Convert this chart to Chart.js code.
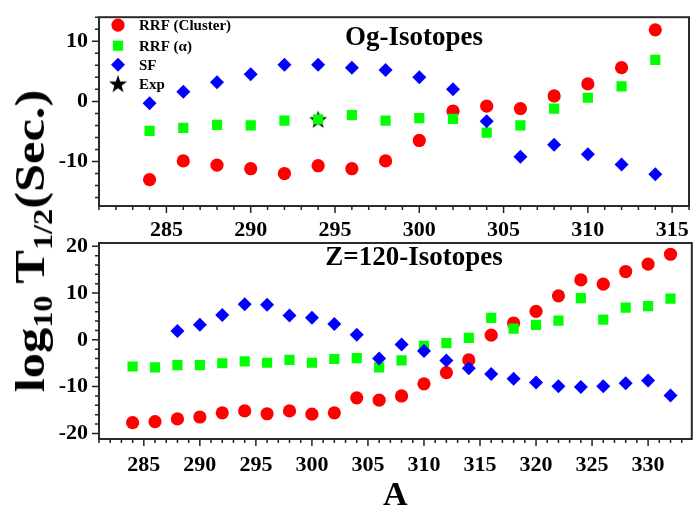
<!DOCTYPE html>
<html><head><meta charset="utf-8">
<script src="https://cdn.jsdelivr.net/npm/chart.js@4"></script>
<style>
html,body{margin:0;padding:0;background:#fff;}
#wrap{position:relative;width:699px;height:514px;overflow:hidden;background:#fff;}
.box{position:absolute;left:0;width:699px;}
#ytitle{position:absolute;left:30px;top:241px;transform:translate(-50%,-50%) rotate(-90deg) scaleX(1.2);font:bold 42px "Liberation Serif",serif;white-space:nowrap;color:#000;line-height:1;}
#ytitle sub{font-size:27px;vertical-align:-0.3em;line-height:0;}
</style></head><body>
<div id="wrap">
<div class="box" style="top:0;height:240px"><canvas id="c1"></canvas></div>
<div class="box" style="top:225px;height:289px"><canvas id="c2"></canvas></div>
<div id="ytitle">log<sub>10</sub> T<sub>1/2</sub>(Sec.)</div>
</div>
<script>
// ---------- data: Og isotopes (top panel) ----------
const ogA = [284,286,288,290,292,294,296,298,300,302,304,306,308,310,312,314];
const ogCluster = [-13.0,-9.9,-10.6,-11.2,-12.0,-10.7,-11.2,-9.9,-6.5,-1.6,-0.8,-1.2,0.9,2.9,5.6,11.9];
const ogAlpha = [-4.9,-4.4,-3.9,-4.0,-3.2,-3.0,-2.3,-3.2,-2.8,-2.9,-5.2,-4.0,-1.2,0.6,2.5,6.9];
const ogSF = [-0.3,1.6,3.2,4.5,6.1,6.1,5.6,5.2,4.0,2.0,-3.3,-9.2,-7.2,-8.8,-10.5,-12.1];
const ogExpA = [294];
const ogExp = [-3.0];

// ---------- data: Z=120 isotopes (bottom panel) ----------
const zA = [284,286,288,290,292,294,296,298,300,302,304,306,308,310,312,314,316,318,320,322,324,326,328,330,332];
const zCluster = [-17.7,-17.5,-16.9,-16.5,-15.6,-15.2,-15.8,-15.2,-15.9,-15.6,-12.4,-12.9,-12.0,-9.4,-7.0,-4.3,1.0,3.6,6.1,9.4,12.8,11.9,14.6,16.2,18.3];
const zAlpha = [-5.7,-5.9,-5.4,-5.4,-5.0,-4.6,-4.9,-4.3,-4.9,-4.1,-3.9,-5.9,-4.4,-1.3,-0.7,0.4,4.7,2.4,3.2,4.1,8.9,4.3,6.9,7.2,8.8];
const zSFA = [288,290,292,294,296,298,300,302,304,306,308,310,312,314,316,318,320,322,324,326,328,330,332];
const zSF = [1.9,3.2,5.3,7.6,7.5,5.2,4.7,3.4,1.1,-4.0,-1.0,-2.4,-4.4,-6.1,-7.3,-8.3,-9.1,-9.9,-10.1,-9.9,-9.3,-8.7,-11.9];

const seriesNames = ['RRF (Cluster)','RRF (\u03b1)','SF','Exp'];
const topXTicks = {min:281, max:316};
const botXTicks = {min:281, max:333.9};
const topYRange = {min:-17.4, max:14};
const botYRange = {min:-21.2, max:20.7};

const FONT = "'Liberation Serif', 'Times New Roman', serif";
Chart.defaults.font.family = FONT;
Chart.defaults.font.weight = 'bold';
Chart.defaults.font.size = 22;
Chart.defaults.color = '#000';

// filled star marker
const star = document.createElement('canvas');
star.width = 20; star.height = 20;
(function(){
  const c = star.getContext('2d');
  c.fillStyle = '#000';
  c.beginPath();
  for (let i = 0; i < 10; i++) {
    const r = i % 2 === 0 ? 9.5 : 3.8;
    const a = -Math.PI/2 + i * Math.PI/5;
    const px = 10 + r*Math.cos(a), py = 10.8 + r*Math.sin(a);
    if (i === 0) c.moveTo(px, py); else c.lineTo(px, py);
  }
  c.closePath(); c.fill();
})();

const pts = (xs, ys) => xs.map((x,i) => ({x, y: ys[i]}));
const isMult = (v, m) => Math.abs(v - Math.round(v/m)*m) < 1e-6;

const styles = [
  {pointStyle:'circle', radius:6.6, color:'#ff0000', order:3},
  {pointStyle:'rect', radius:7.2, color:'#00ff00', order:2},
  {pointStyle:'rectRot', radius:7, color:'#0000ff', order:1},
  {pointStyle:star, radius:10, color:'#000', order:4}
];
function ds(i, data) {
  const s = styles[i];
  return {label: seriesNames[i], data, pointStyle: s.pointStyle, pointRadius: s.radius,
    pointHoverRadius: s.radius, backgroundColor: s.color, borderColor: s.color, pointBorderWidth: 0,
    showLine: false, order: s.order};
}

const frame = {
  id: 'frame',
  afterDraw(chart) {
    const {ctx, chartArea: a, scales: {x, y}} = chart;
    ctx.save();
    ctx.strokeStyle = '#222'; ctx.lineWidth = 1.5;
    ctx.beginPath();
    x.ticks.forEach(t => {
      const px = x.getPixelForValue(t.value);
      const L = isMult(t.value, 5) ? 7 : 4;
      ctx.moveTo(px, a.bottom); ctx.lineTo(px, a.bottom + L);
    });
    y.ticks.forEach(t => {
      const py = y.getPixelForValue(t.value);
      const L = isMult(t.value, 10) ? 7 : 4;
      ctx.moveTo(a.left, py); ctx.lineTo(a.left - L, py);
    });
    ctx.stroke();
    ctx.lineWidth = 2; ctx.strokeStyle = '#2a2a2a';
    ctx.strokeRect(a.left, a.top, a.right - a.left, a.bottom - a.top);
    const pt = chart.options.plugins.panelTitle;
    if (pt) {
      ctx.fillStyle = '#000';
      ctx.font = 'bold 27px ' + FONT;
      ctx.textAlign = 'center'; ctx.textBaseline = 'middle';
      ctx.fillText(pt.text, pt.x, a.top + pt.dy);
    }
    const lg = chart.options.plugins.insideLegend;
    if (lg) {
      ctx.font = 'bold 15px ' + FONT;
      ctx.textAlign = 'left'; ctx.textBaseline = 'middle';
      chart.data.datasets.forEach((d, i) => {
        const yy = a.top + lg.rows[i];
        ctx.fillStyle = d.backgroundColor;
        Chart.helpers.drawPoint(ctx, {pointStyle: d.pointStyle, radius: d.pointRadius, rotation: 0, borderWidth: 0}, lg.mx, yy);
        ctx.fillStyle = '#000';
        ctx.fillText(d.label, lg.tx, yy + 1);
      });
    }
    ctx.restore();
  }
};

function scales(xr, yr, xh, xpad, xtitle) {
  const grid = {display: true, drawOnChartArea: false, drawTicks: true, tickLength: 7, color: 'rgba(0,0,0,0)'};
  const x = {type: 'linear', position: 'bottom', min: xr.min, max: xr.max,
    grid, border: {display: false},
    ticks: {stepSize: 1, autoSkip: false, maxRotation: 0, includeBounds: false, padding: xpad,
      callback: v => isMult(v, 5) ? String(Math.round(v)) : ''},
    afterFit: s => { s.height = xh; }};
  if (xtitle) x.title = {display: true, text: xtitle, font: {size: 34, weight: 'bold', lineHeight: 1}, padding: {top: 0, bottom: 1}};
  const y = {type: 'linear', min: yr.min, max: yr.max, grid, border: {display: false},
    ticks: {stepSize: 2, autoSkip: false, includeBounds: false, padding: 4,
      callback: v => isMult(v, 10) ? String(Math.round(v)) : ''},
    afterFit: s => { s.width = 99; }};
  return {x, y};
}

new Chart(document.getElementById('c1'), {
  type: 'scatter',
  data: {datasets: [ds(0, pts(ogA, ogCluster)), ds(1, pts(ogA, ogAlpha)), ds(2, pts(ogA, ogSF)), ds(3, pts(ogExpA, ogExp))]},
  options: {
    responsive: true, maintainAspectRatio: false, animation: false,
    layout: {padding: {top: 11, right: 1, left: 0, bottom: 0}},
    scales: scales(topXTicks, topYRange, 34, 4, null),
    plugins: {legend: {display: false}, tooltip: {enabled: false},
      panelTitle: {text: 'Og-Isotopes', x: 414, dy: 21},
      insideLegend: {rows: [8, 28.5, 47.5, 66.5], mx: 118, tx: 139}}
  },
  plugins: [frame]
});

new Chart(document.getElementById('c2'), {
  type: 'scatter',
  data: {datasets: [ds(0, pts(zA, zCluster)), ds(1, pts(zA, zAlpha)), ds(2, pts(zSFA, zSF))]},
  options: {
    responsive: true, maintainAspectRatio: false, animation: false,
    layout: {padding: {top: 18, right: 2, left: 0, bottom: 0}},
    scales: scales(botXTicks, botYRange, 75, 6, 'A'),
    plugins: {legend: {display: false}, tooltip: {enabled: false},
      panelTitle: {text: 'Z=120-Isotopes', x: 414, dy: 15}}
  },
  plugins: [frame]
});
</script>
</body></html>
